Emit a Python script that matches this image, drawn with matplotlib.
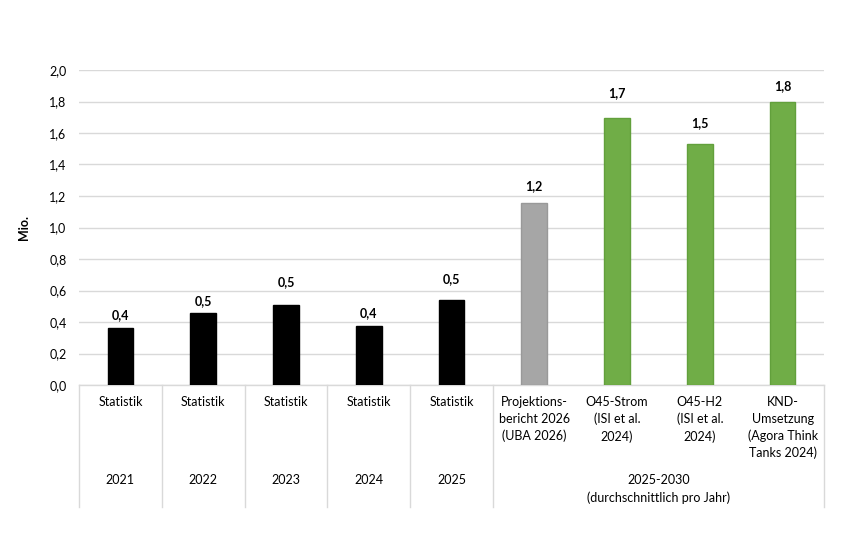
import numpy as np
import matplotlib
matplotlib.use('Agg')
import matplotlib.pyplot as plt
from matplotlib.ticker import FuncFormatter

plt.rcParams['font.family'] = ['Lato', 'DejaVu Sans']

# Daten
kategorien = ['Statistik', 'Statistik', 'Statistik', 'Statistik', 'Statistik',
              'Projektions-\nbericht 2026\n(UBA 2026)',
              'O45-Strom\n(ISI et al.\n2024)',
              'O45-H2\n(ISI et al.\n2024)',
              'KND-\nUmsetzung\n(Agora Think\nTanks 2024)']
jahre = ['2021', '2022', '2023', '2024', '2025']
gruppe = '2025-2030\n(durchschnittlich pro Jahr)'
werte = [0.36, 0.46, 0.51, 0.375, 0.54, 1.155, 1.695, 1.53, 1.795]
farben = ['#000000'] * 5 + ['#A6A6A6'] + ['#70AD47'] * 3
randfarben = ['#000000'] * 5 + ['#999999'] + ['#62A03C'] * 3
# Abstand der Beschriftung über dem Balken (pt), wie im Original leicht verschieden
label_abstand = [5, 4, 12, 5, 11, 8, 14, 11, 7]

fig = plt.figure(figsize=(8.41, 5.6), dpi=100)
ax = fig.add_axes([79 / 841, 1 - 385 / 560, (824 - 79) / 841, 315 / 560])

x = np.arange(len(werte))
bars = ax.bar(x, werte, width=0.31, color=farben, edgecolor=randfarben,
              linewidth=1, zorder=3)

for b, w, d in zip(bars, werte, label_abstand):
    ax.annotate(f'{w:.1f}'.replace('.', ','),
                (b.get_x() + b.get_width() / 2, b.get_height()),
                xytext=(0, d), textcoords='offset points',
                ha='center', va='bottom', fontsize=9, fontweight='bold')

ax.set_xlim(-0.5, len(werte) - 0.5)
ax.set_ylim(0, 2.0)
ax.set_yticks(np.arange(0, 2.01, 0.2))
ax.yaxis.set_major_formatter(FuncFormatter(lambda v, p: f'{v:.1f}'.replace('.', ',')))
ax.tick_params(axis='y', length=0, pad=9, labelsize=9)
ax.tick_params(axis='x', length=0, labelbottom=False)
ax.set_xticks([])
ax.grid(axis='y', color='#D9D9D9', linewidth=1, zorder=0)
for s in ['top', 'right', 'left']:
    ax.spines[s].set_visible(False)
ax.spines['bottom'].set_color('#D9D9D9')
ax.spines['bottom'].set_linewidth(1)
ax.set_ylabel('Mio.', fontsize=9, fontweight='bold', labelpad=14)

# mehrstufige Kategorienachse
trans = ax.get_xaxis_transform()
for i, k in enumerate(kategorien):
    ax.text(i, -0.035, k, transform=trans, ha='center', va='top',
            fontsize=9, linespacing=1.45, clip_on=False)
for i, j in enumerate(jahre):
    ax.text(i, -0.302, j, transform=trans, ha='center', va='center',
            fontsize=9, clip_on=False)
ax.text(np.mean(x[len(jahre):]), -0.33, gruppe, transform=trans,
        ha='center', va='center', fontsize=9, linespacing=1.45, clip_on=False)

grenzen = list(np.arange(-0.5, len(jahre))) + [len(werte) - 0.5]
for g in grenzen:
    ax.plot([g, g], [0, -0.387], transform=trans, color='#D9D9D9',
            linewidth=1, clip_on=False)

fig.savefig('out.png', dpi=100)
